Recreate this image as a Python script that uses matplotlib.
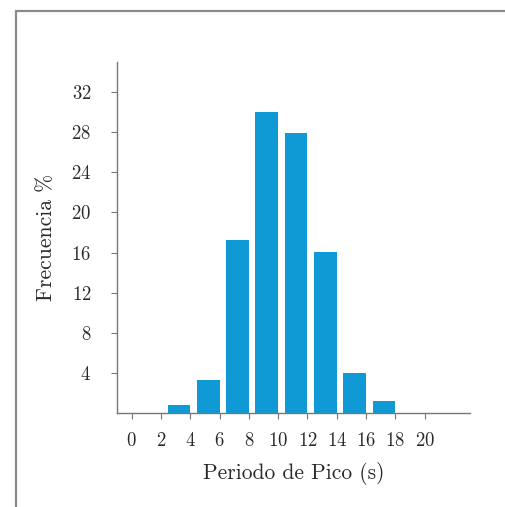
import matplotlib
matplotlib.use("Agg")
import matplotlib.pyplot as plt
from matplotlib.patches import Rectangle

# peak period histogram (bins of 2 s)
bin_left = [0, 2, 4, 6, 8, 10, 12, 14, 16, 18, 20]
freq = [0.0, 0.8, 3.3, 17.3, 30.0, 27.9, 16.1, 4.0, 1.2, 0.0, 0.0]
xticks = [0, 2, 4, 6, 8, 10, 12, 14, 16, 18, 20]
yticks = [4, 8, 12, 16, 20, 24, 28, 32]

plt.rcParams['font.family'] = ['cmr10', 'DejaVu Serif']
plt.rcParams['axes.formatter.use_mathtext'] = True

fig = plt.figure(figsize=(5.06, 5.07), dpi=100)
fig.patch.set_facecolor('white')

# gray frame around the figure (cut at right and bottom)
fig.patches.append(Rectangle((16/506., -0.2), 2.0, 1.2 - 11/507., transform=fig.transFigure,
                             fill=False, edgecolor='#8a8a8a', linewidth=1.6))

ax = fig.add_axes([117/506., 1 - 413/507., (470 - 117)/506., (413 - 62)/507.])

bw = 1.55
ax.bar([b + 2 - bw/2. for b in bin_left], freq, width=bw, color='#0f9ad5', edgecolor='none')

ax.set_xlim(-1, 23.1)
ax.set_ylim(0, 35)
ax.set_xticks(xticks)
ax.set_yticks(yticks)

for s in ['top', 'right']:
    ax.spines[s].set_visible(False)
for s in ['left', 'bottom']:
    ax.spines[s].set_color('#777777')
    ax.spines[s].set_linewidth(1.0)
ax.tick_params(colors='#777777', labelcolor='#2a2a2a', labelsize=13.5, length=4.5, direction='out')
ax.tick_params(axis='x', pad=9)
ax.tick_params(axis='y', pad=14)

ax.set_xlabel('Periodo de Pico (s)', fontsize=15.5, color='#2a2a2a', labelpad=9)
ax.set_ylabel('Frecuencia %', fontsize=15.5, color='#2a2a2a', labelpad=11)

fig.savefig('out.png', dpi=100)
